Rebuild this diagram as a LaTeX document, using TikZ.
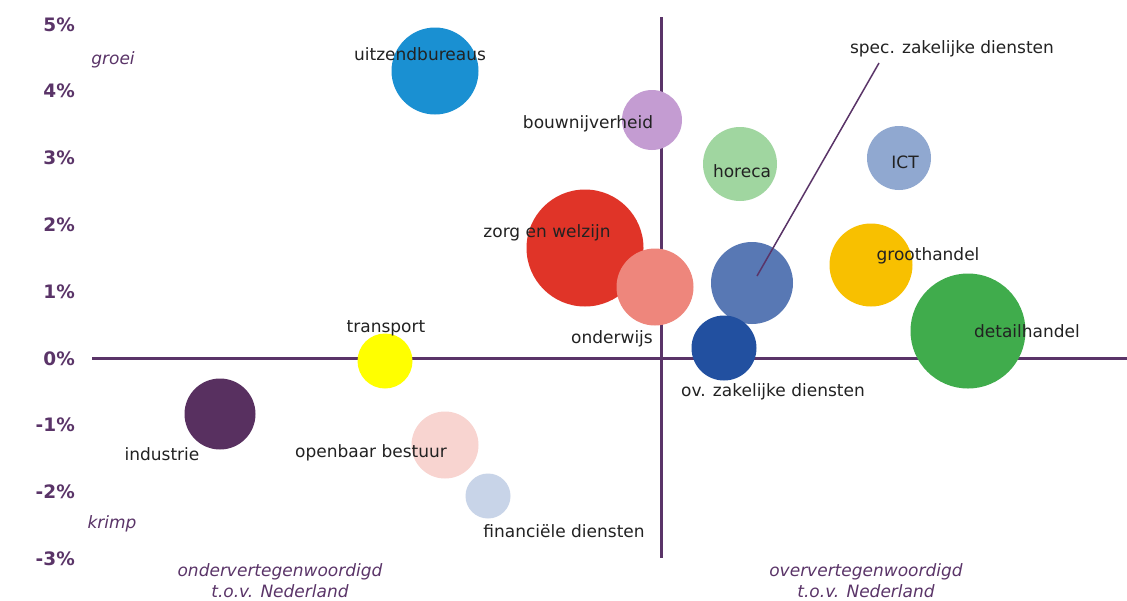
\documentclass[tikz,border=0pt]{standalone}
\usepackage{fontspec}
\setmainfont{DejaVu Sans}
\usetikzlibrary{positioning}
\usetikzlibrary{calc}

\definecolor{axispurple}{HTML}{5A3468}
\definecolor{labelgray}{HTML}{222222}

\tikzset{
    bubble/.style={circle, draw=none, inner sep=0pt, minimum size=#1},
    lbl/.style={text=labelgray, anchor=base, inner sep=0pt, font=\fontsize{17}{20}\selectfont},
    tick/.style={text=axispurple, anchor=base east, inner sep=0pt, font=\bfseries\fontsize{18.5}{20}\selectfont},
    side/.style={text=axispurple, anchor=base, inner sep=0pt, align=center, font=\itshape\fontsize{17}{21}\selectfont},
    axis/.style={draw=axispurple, line width=3pt}
}

\begin{document}
\begin{tikzpicture}[x=1pt, y=-1pt]
    \useasboundingbox[fill=white] (0,0) rectangle (1127,600);

    % axes
    \coordinate (xl) at (92,358);
    \coordinate (xr) at (1127,358);
    \coordinate (yt) at (661,17);
    \coordinate (yb) at (661,558);
    \draw[axis] (xl) -- (xr);
    \draw[axis] (yt) -- (yb);

    % percentages
    \foreach \p in {5,4,...,-3}
        \node[tick] (t\p) at (75, 365-66.8*\p) {\p\%};

    \node[side] (groei) at (113,64) {groei};
    \node[side] (krimp) at (112,528) {krimp};
    \node[side] (onder) at (280,597) {ondervertegenwoordigd\\t.o.v. Nederland};
    \node[side] (over) at (866,597) {oververtegenwoordigd\\t.o.v. Nederland};

    % bubbles
    \node[bubble=87, fill={rgb,255:red,26;green,144;blue,210}] (uitzend) at (435,71) {};
    \node[bubble=60, fill={rgb,255:red,196;green,156;blue,210}] (bouw) at (652,120) {};
    \node[bubble=74, fill={rgb,255:red,160;green,214;blue,160}] (horeca) at (740,164) {};
    \node[bubble=64, fill={rgb,255:red,144;green,168;blue,208}] (ict) at (899,158) {};
    \node[bubble=117, fill={rgb,255:red,224;green,52;blue,40}] (zorg) at (585,248) {};
    \node[bubble=77, fill={rgb,255:red,238;green,134;blue,124}] (onderwijs) at (655,287) {};
    \node[bubble=82, fill={rgb,255:red,88;green,120;blue,180}] (spec) at (752,283) {};
    \node[bubble=83, fill={rgb,255:red,248;green,192;blue,0}] (groot) at (871,265) {};
    \node[bubble=115, fill={rgb,255:red,64;green,172;blue,76}] (detail) at (968,331) {};
    \node[bubble=65, fill={rgb,255:red,34;green,80;blue,160}] (ov) at (724,348) {};
    \node[bubble=55, fill={rgb,255:red,255;green,255;blue,0}] (transport) at (385,361) {};
    \node[bubble=71, fill={rgb,255:red,88;green,48;blue,96}] (industrie) at (220,414) {};
    \node[bubble=67, fill={rgb,255:red,248;green,212;blue,208}] (openbaar) at (445,445) {};
    \node[bubble=45, fill={rgb,255:red,200;green,212;blue,232}] (fin) at (488,496) {};

    % leader line
    \coordinate (specend) at (879,63);
    \draw[axispurple, line width=1.5pt] (specend) -- ([shift={(5,-7)}]spec.center);

    % labels
    \node[lbl] (luitzend) at (420,60) {uitzendbureaus};
    \node[lbl] (lbouw) at (588,128) {bouwnijverheid};
    \node[lbl] (lhoreca) at (742,177) {horeca};
    \node[lbl] (lict) at (905,168) {ICT};
    \node[lbl] (lspec) at (952,53) {spec. zakelijke diensten};
    \node[lbl] (lzorg) at (547,237) {zorg en welzijn};
    \node[lbl] (londerwijs) at (612,343) {onderwijs};
    \node[lbl] (lov) at (773,396) {ov. zakelijke diensten};
    \node[lbl] (lgroot) at (928,260) {groothandel};
    \node[lbl] (ldetail) at (1027,337) {detailhandel};
    \node[lbl] (ltransport) at (386,332) {transport};
    \node[lbl] (lopenbaar) at (371,457) {openbaar bestuur};
    \node[lbl] (lfin) at (564,537) {financiële diensten};
    \node[lbl] (lindustrie) at (162,460) {industrie};
\end{tikzpicture}
\end{document}
